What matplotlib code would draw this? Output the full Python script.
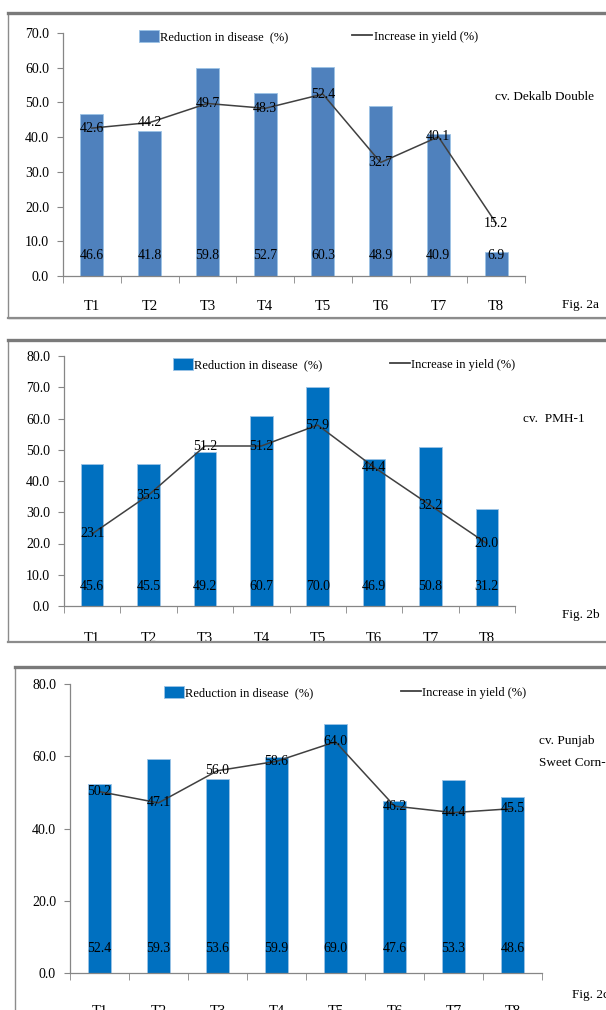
import matplotlib.pyplot as plt
from matplotlib.patches import Rectangle, Patch
from matplotlib.lines import Line2D
import numpy as np

plt.rcParams['font.family'] = ['Liberation Serif', 'DejaVu Serif']

W, H = 606, 1010

treatments = ["T1", "T2", "T3", "T4", "T5", "T6", "T7", "T8"]

# Fig. 2a - cv. Dekalb Double
disease_a = [46.6, 41.8, 59.8, 52.7, 60.3, 48.9, 40.9, 6.9]
yield_a = [42.6, 44.2, 49.7, 48.3, 52.4, 32.7, 40.1, 15.2]

# Fig. 2b - cv. PMH-1
disease_b = [45.6, 45.5, 49.2, 60.7, 70.0, 46.9, 50.8, 31.2]
yield_b = [23.1, 35.5, 51.2, 51.2, 57.9, 44.4, 32.2, 20.0]

# Fig. 2c - cv. Punjab Sweet Corn-1
disease_c = [52.4, 59.3, 53.6, 59.9, 69.0, 47.6, 53.3, 48.6]
yield_c = [50.2, 47.1, 56.0, 58.6, 64.0, 46.2, 44.4, 45.5]

fig = plt.figure(figsize=(W / 100, H / 100), dpi=100)


def fx(x):
    return x / W


def fy(y):
    return 1 - y / H


def frame(x0, y0, x1, y1):
    # grey box round each panel, heavier on top
    fig.patches.append(Rectangle((fx(x0), fy(y1)), fx(x1 - x0), y1 / H - y0 / H,
                                 transform=fig.transFigure, fill=False,
                                 edgecolor="#8c8c8c", lw=1.0, zorder=1))
    fig.add_artist(Line2D([fx(x0), fx(x1)], [fy(y0), fy(y0)], color="#7a7a7a",
                          lw=2.4, transform=fig.transFigure, zorder=3))
    fig.add_artist(Line2D([fx(x0), fx(x1)], [fy(y1), fy(y1)], color="#8c8c8c",
                          lw=1.6, transform=fig.transFigure, zorder=3))


def panel(box, bars, line, ymax, ystep, color, leg_xy, colsp, lab_off, xpad,
          note_xy, note, fig_xy, fig_label):
    x0, y0, x1, y1 = box
    ax = fig.add_axes([fx(x0), fy(y1), fx(x1 - x0), (y1 - y0) / H])
    x = np.arange(len(treatments))
    ax.bar(x, bars, width=0.4, color=color, edgecolor="#9cc3e6", linewidth=0.6,
           zorder=2)
    ax.plot(x, line, color="#404040", lw=1.1, zorder=3)
    for i, v in enumerate(bars):
        ax.annotate(f"{v:.1f}", xy=(i, 0), xytext=(0, lab_off),
                    textcoords="offset points", ha="center", va="center",
                    fontsize=10, zorder=4)
    for i, v in enumerate(line):
        ax.annotate(f"{v:.1f}", xy=(i, v), ha="center", va="center",
                    fontsize=10, zorder=4)
    ax.set_xlim(-0.5, len(treatments) - 0.5)
    ax.set_ylim(0, ymax)
    ax.set_yticks(np.arange(0, ymax + 0.1, ystep))
    ax.set_yticklabels([f"{t:.1f}" for t in np.arange(0, ymax + 0.1, ystep)])
    ax.set_xticks(x)
    ax.set_xticklabels(treatments, fontsize=10.5)
    ax.set_xticks(np.arange(-0.5, len(treatments)), minor=True)
    ax.tick_params(axis="x", which="major", length=0, pad=xpad)
    ax.tick_params(axis="x", which="minor", length=5, color="#868686")
    ax.tick_params(axis="y", length=4, color="#868686", labelsize=10, pad=6)
    for s in ["top", "right"]:
        ax.spines[s].set_visible(False)
    for s in ["left", "bottom"]:
        ax.spines[s].set_color("#868686")
        ax.spines[s].set_linewidth(0.9)
    ax.patch.set_alpha(0)

    handles = [Patch(facecolor=color, edgecolor="#9cc3e6", lw=0.6),
               Line2D([], [], color="#404040", lw=1.3)]
    ax.legend(handles, ["Reduction in disease  (%)", "Increase in yield (%)"],
              loc="upper left", bbox_to_anchor=(fx(leg_xy[0]), fy(leg_xy[1])),
              bbox_transform=fig.transFigure, ncol=2, frameon=False,
              fontsize=9, handlelength=1.6, handleheight=1.1,
              handletextpad=0.1, columnspacing=colsp, borderpad=0,
              borderaxespad=0)
    fig.text(fx(note_xy[0]), fy(note_xy[1]), note, fontsize=9.5, va="center",
             ha="left", linespacing=2.2)
    fig.text(fx(fig_xy[0]), fy(fig_xy[1]), fig_label, fontsize=9.5,
             va="center", ha="left")
    return ax


frame(8, 13, 640, 318)
panel((63, 33, 525, 276), disease_a, yield_a, 70, 10, "#4f81bd",
      (139, 30), 5.1, 15, 17, (495, 97), "cv. Dekalb Double",
      (562, 305), "Fig. 2a")

frame(8, 340, 640, 642)
panel((64, 356, 515, 606), disease_b, yield_b, 80, 10, "#0070c0",
      (173, 358), 5.4, 14, 19, (523, 419), "cv.  PMH-1",
      (562, 615), "Fig. 2b")
# the panel border trims the bottom of the T labels
fig.patches.append(Rectangle((0, fy(666)), 1, (666 - 643) / H,
                             transform=fig.transFigure, color="white",
                             zorder=2))

frame(15, 667, 640, 1040)
panel((70, 684, 542, 973), disease_c, yield_c, 80, 20, "#0070c0",
      (164, 686), 7.0, 18, 23, (539, 752), "cv. Punjab\nSweet Corn-1",
      (572, 995), "Fig. 2c")

fig.savefig("out.png", dpi=100)
